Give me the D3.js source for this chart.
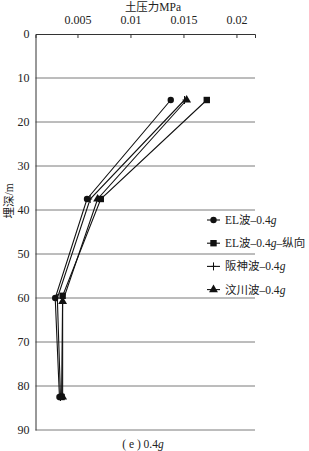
<!DOCTYPE html>
<html>
<head>
<meta charset="utf-8">
<script src="https://cdn.jsdelivr.net/npm/d3@7.9.0/dist/d3.min.js"></script>
<style>
  body { margin: 0; background: #fff; }
  text { font-family: "Liberation Serif", "Noto Sans CJK SC", serif; fill: #222; }
</style>
</head>
<body>
<div class="container"></div>
<script>
const width = 309, height = 451;

// depth (m) per series
const depthEL = [15, 37.5, 60, 82.5];
const depthELz = [15, 37.5, 59.5, 82.5];
const depthHS = [15, 37.5, 60, 82.5];
const depthWC = [15, 37.5, 60.8, 82.5];
// earth pressure (MPa)
const pressEL = [0.0138, 0.0059, 0.0029, 0.0033];
const pressELz = [0.0172, 0.0072, 0.0036, 0.0035];
const pressHS = [0.0151, 0.0062, 0.0031, 0.0034];
const pressWC = [0.0153, 0.0069, 0.0036, 0.0036];

const seriesNames = ["EL波–0.4", "EL波–0.4", "阪神波–0.4", "汶川波–0.4"];
const seriesSuffix = ["", "–纵向", "", ""];
const markers = ["circle", "square", "cross", "triangle"];
const xTicks = [0.005, 0.01, 0.015, 0.02];
const yTicks = [0, 10, 20, 30, 40, 50, 60, 70, 80, 90];

const series = [
  { depth: depthEL, press: pressEL },
  { depth: depthELz, press: pressELz },
  { depth: depthHS, press: pressHS },
  { depth: depthWC, press: pressWC }
].map((s, i) => ({
  name: seriesNames[i], suffix: seriesSuffix[i], marker: markers[i],
  points: s.depth.map((d, j) => ({ depth: d, p: s.press[j] }))
}));

const plotL = 35.5, plotR = 255, plotT = 34, plotB = 430;

const x = d3.scaleLinear().domain([0.00104, 0.02175]).range([plotL, plotR]);
const y = d3.scaleLinear().domain([0, 90]).range([plotT, plotB]);

const svg = d3.select(".container").append("svg")
  .attr("width", width).attr("height", height);

// grid lines
svg.append("g").selectAll("line")
  .data(yTicks.slice(1))
  .enter().append("line")
  .attr("x1", plotL).attr("x2", plotR)
  .attr("y1", d => y(d)).attr("y2", d => y(d))
  .attr("stroke", "#7a7a7a").attr("stroke-width", 1);

// top axis
const xAxis = d3.axisTop(x).tickValues(xTicks).tickSize(-4).tickPadding(10)
  .tickFormat(d => String(d));
const gx = svg.append("g").attr("transform", `translate(0,${plotT})`).call(xAxis);
gx.select(".domain").attr("stroke", "#333");
gx.selectAll(".tick line").attr("stroke", "#333");
gx.selectAll(".tick text").attr("font-size", 12).attr("font-family", "Liberation Serif").attr("fill", "#222");

// left axis
const yAxis = d3.axisLeft(y).tickValues(yTicks).tickSize(0).tickPadding(6);
const gy = svg.append("g").attr("transform", `translate(${plotL},0)`).call(yAxis);
gy.select(".domain").attr("stroke", "#333");
gy.selectAll(".tick text").attr("font-size", 12).attr("font-family", "Liberation Serif").attr("fill", "#222");

// titles
svg.append("text").attr("x", 153).attr("y", 11).attr("text-anchor", "middle")
  .attr("font-size", 11.5).text("土压力MPa");
svg.append("text").attr("transform", `translate(13,201) rotate(-90)`)
  .attr("text-anchor", "middle").attr("font-size", 11.5).text("埋深/m");
const cap = svg.append("text").attr("x", 143).attr("y", 448).attr("text-anchor", "middle")
  .attr("font-size", 11.5);
cap.append("tspan").text("( e ) 0.4");
cap.append("tspan").attr("font-style", "italic").text("g");

function drawMarker(g, type, cx, cy) {
  if (type === "circle") {
    g.append("circle").attr("cx", cx).attr("cy", cy).attr("r", 3.2).attr("fill", "#111");
  } else if (type === "square") {
    g.append("rect").attr("x", cx - 3.2).attr("y", cy - 3.2).attr("width", 6.4).attr("height", 6.4).attr("fill", "#111");
  } else if (type === "triangle") {
    g.append("path").attr("d", d3.symbol(d3.symbolTriangle, 34)()).attr("transform", `translate(${cx},${cy})`).attr("fill", "#111");
  } else {
    g.append("path").attr("d", `M${cx - 2},${cy}H${cx + 2}M${cx},${cy - 4}V${cy + 4}`)
      .attr("stroke", "#111").attr("stroke-width", 1);
  }
}

const line = d3.line().x(d => x(d.p)).y(d => y(d.depth));
series.forEach(s => {
  const g = svg.append("g");
  g.append("path").datum(s.points).attr("d", line)
    .attr("fill", "none").attr("stroke", "#111").attr("stroke-width", 1.1);
  s.points.forEach(p => drawMarker(g, s.marker, x(p.p), y(p.depth)));
});

// legend
const legend = svg.append("g");
series.forEach((s, i) => {
  const ly = 220 + i * 23.2;
  legend.append("line").attr("x1", 207).attr("x2", 220).attr("y1", ly).attr("y2", ly)
    .attr("stroke", "#111").attr("stroke-width", 1.1);
  drawMarker(legend, s.marker, 213.5, ly);
  const t = legend.append("text").attr("x", 225).attr("y", ly + 4).attr("font-size", 11.5);
  t.append("tspan").text(s.name);
  t.append("tspan").attr("font-style", "italic").text("g");
  if (s.suffix) t.append("tspan").text(s.suffix);
});
</script>
</body>
</html>
